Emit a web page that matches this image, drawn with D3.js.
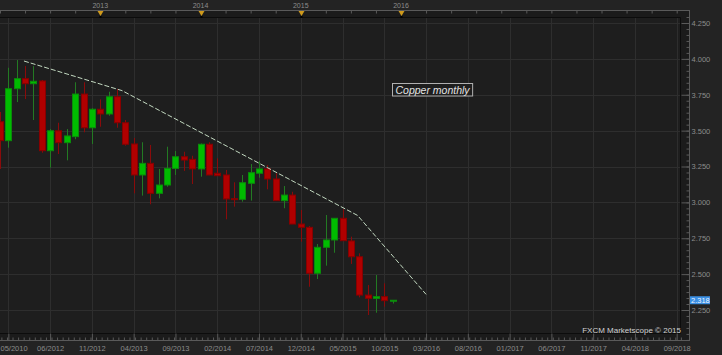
<!DOCTYPE html>
<html>
<head>
<meta charset="utf-8">
<script src="https://cdn.jsdelivr.net/npm/d3@7/dist/d3.min.js"></script>
<style>
  html, body { margin: 0; padding: 0; background: #232323; }
  svg { display: block; font-family: "Liberation Sans", Arial, sans-serif; }
</style>
</head>
<body>
<svg id="chart" width="722" height="355"></svg>
<script>
// monthly candles, Dec 2011 .. Nov 2015
let months = ["2011-12",
  "2012-01","2012-02","2012-03","2012-04","2012-05","2012-06","2012-07","2012-08","2012-09","2012-10","2012-11","2012-12",
  "2013-01","2013-02","2013-03","2013-04","2013-05","2013-06","2013-07","2013-08","2013-09","2013-10","2013-11","2013-12",
  "2014-01","2014-02","2014-03","2014-04","2014-05","2014-06","2014-07","2014-08","2014-09","2014-10","2014-11","2014-12",
  "2015-01","2015-02","2015-03","2015-04","2015-05","2015-06","2015-07","2015-08","2015-09","2015-10","2015-11"];
let open  = [3.562, 3.430,3.792,3.862,3.827,3.846,3.360,3.499,3.416,3.458,3.755,3.520,3.649,
             3.616,3.736,3.555,3.407,3.191,3.272,3.063,3.121,3.237,3.318,3.300,3.233,
             3.405,3.203,3.191,3.026,3.021,3.133,3.203,3.233,3.163,3.012,3.051,2.849,
             2.826,2.506,2.687,2.738,2.889,2.731,2.621,2.354,2.331,2.343,2.315];
let high  = [3.630, 3.938,3.992,3.950,3.950,3.853,3.511,3.555,3.511,3.837,3.837,3.656,3.718,
             3.771,3.790,3.574,3.449,3.419,3.400,3.233,3.388,3.358,3.353,3.325,3.410,
             3.419,3.307,3.226,3.140,3.191,3.267,3.288,3.260,3.203,3.114,3.074,2.947,
             2.835,2.710,2.912,2.890,2.952,2.761,2.645,2.424,2.494,2.436,2.318];
let low   = [3.233, 3.381,3.699,3.720,3.574,3.346,3.242,3.337,3.293,3.440,3.488,3.407,3.527,
             3.604,3.520,3.395,3.063,3.047,2.987,3.028,3.109,3.191,3.219,3.128,3.179,
             3.189,3.186,2.882,2.970,3.005,3.012,3.172,3.091,3.010,2.959,2.849,2.726,
             2.412,2.466,2.559,2.649,2.733,2.571,2.338,2.215,2.231,2.273,2.295];
let close = [3.430, 3.792,3.862,3.827,3.844,3.360,3.499,3.416,3.463,3.755,3.520,3.649,3.616,
             3.736,3.555,3.405,3.191,3.272,3.063,3.121,3.237,3.318,3.295,3.233,3.405,
             3.191,3.186,3.024,3.019,3.137,3.207,3.233,3.163,3.012,3.051,2.849,2.826,
             2.506,2.687,2.738,2.889,2.733,2.621,2.354,2.331,2.343,2.315,2.318];
let lastPrice = 2.318;

// dashed trend line (position in months from Jan 2012, price)
let trendPos = [1.87, 13.6, 41.8, 50.0];
let trendVal = [3.985, 3.779, 2.909, 2.359];

// axis labels
let labelMonths = ["2012-01","2012-06","2012-11","2013-04","2013-09","2014-02","2014-07","2014-12",
                   "2015-05","2015-10","2016-03","2016-08","2017-01","2017-06","2017-11","2018-04","2018-09"];
let labelText = ["05/2010","06/2012","11/2012","04/2013","09/2013","02/2014","07/2014","12/2014",
                 "05/2015","10/2015","03/2016","08/2016","01/2017","06/2017","11/2017","04/2018","09/2018"];
let yearText = ["2013","2014","2015","2016"];
let yearMonths = ["2012-12","2013-12","2014-12","2015-12"];
let priceTicks = [2.25, 2.5, 2.75, 3.0, 3.25, 3.5, 3.75, 4.0, 4.25];

let monthIdx = m => { let p = m.split('-'); return (+p[0] - 2012) * 12 + (+p[1] - 1); };

let plot = {left: 0, right: 680, top: 17, bottom: 333};
let axisX = 689, axisTopY = 10, axisBottomY = 340;

let x = d3.scaleLinear().domain([0, 80]).range([8.35, 676.7]);
let y = d3.scaleLinear().domain([2.25, 4.25]).range([310, 23]);

let svg = d3.select('#chart');
svg.append('rect').attr('width', 722).attr('height', 355).style('fill', '#232323');

// axis bands
svg.append('rect').attr('x', 0).attr('y', axisTopY).attr('width', axisX).attr('height', plot.top - axisTopY)
    .style('fill', '#1b1b1b');
svg.append('rect').attr('x', 0).attr('y', plot.bottom).attr('width', axisX).attr('height', axisBottomY - plot.bottom)
    .style('fill', '#1b1b1b');
svg.append('rect').attr('x', plot.right).attr('y', plot.top).attr('width', axisX - plot.right).attr('height', plot.bottom - plot.top)
    .style('fill', '#1b1b1b');

// plot background
svg.append('rect').attr('x', plot.left).attr('y', plot.top)
    .attr('width', plot.right - plot.left).attr('height', plot.bottom - plot.top)
    .style('fill', '#1e1e1e');

svg.append('defs').append('clipPath').attr('id', 'clip').append('rect')
    .attr('x', plot.left).attr('y', plot.top).attr('width', plot.right - plot.left).attr('height', plot.bottom - plot.top);

let g = svg.append('g').attr('clip-path', 'url(#clip)');

// gridlines
g.selectAll('.vgrid').data(labelMonths).enter().append('line')
    .attr('x1', d => Math.round(x(monthIdx(d))) + 0.5).attr('x2', d => Math.round(x(monthIdx(d))) + 0.5)
    .attr('y1', plot.top).attr('y2', plot.bottom)
    .style('stroke', '#2e2e2e').style('stroke-width', 1);
g.selectAll('.hgrid').data(priceTicks).enter().append('line')
    .attr('x1', plot.left).attr('x2', plot.right)
    .attr('y1', d => Math.round(y(d)) + 0.5).attr('y2', d => Math.round(y(d)) + 0.5)
    .style('stroke', '#2e2e2e').style('stroke-width', 1);

// candles
let candles = months.map((m, i) => ({m: m, o: open[i], h: high[i], l: low[i], c: close[i]}));
let cx = d => Math.round(x(monthIdx(d.m)));

g.selectAll('.wick').data(candles).enter().append('line')
    .attr('x1', d => cx(d) + 0.5).attr('x2', d => cx(d) + 0.5)
    .attr('y1', d => y(d.h)).attr('y2', d => y(d.l))
    .style('stroke', d => d.c >= d.o ? '#237a23' : '#8a0b0b').style('stroke-width', 1);

g.selectAll('.body').data(candles).enter().append('rect')
    .attr('x', d => cx(d) - 2.5)
    .attr('y', d => y(Math.max(d.o, d.c)))
    .attr('width', 6)
    .attr('height', d => Math.max(1, y(Math.min(d.o, d.c)) - y(Math.max(d.o, d.c))))
    .style('fill', d => d.c >= d.o ? '#00bc00' : '#b00000')
    .style('stroke', d => d.c >= d.o ? '#0a8c0a' : '#870000').style('stroke-width', 1);

// trend line
let trend = trendPos.map((p, i) => [p, trendVal[i]]);
g.append('path').datum(trend)
    .attr('d', d3.line().x(d => x(d[0])).y(d => y(d[1])))
    .style('fill', 'none').style('stroke', '#c2d8c0').style('stroke-width', 1)
    .style('stroke-dasharray', '5,2');

// plot border
svg.append('path')
    .attr('d', 'M' + plot.left + ',' + (plot.top + 0.5) + 'H' + (plot.right + 0.5) + 'V' + (plot.bottom + 0.5) + 'H' + plot.left)
    .style('fill', 'none').style('stroke', '#0c0c0c').style('stroke-width', 1);

// right axis
let rAxis = svg.append('g').attr('transform', 'translate(' + (axisX + 0.5) + ',0)')
    .call(d3.axisRight(y).tickValues(priceTicks).tickFormat(d3.format('.3f')).tickSize(-8).tickPadding(2));
let minorY = d3.range(2.0, 4.3, 0.25 / 6).filter(v => y(v) > axisTopY && y(v) < axisBottomY);
let rMinor = svg.append('g').attr('transform', 'translate(' + (axisX + 0.5) + ',0)')
    .call(d3.axisRight(y).tickValues(minorY).tickFormat('').tickSize(-3));

// bottom axis
let bAxis = svg.append('g').attr('transform', 'translate(0,' + (axisBottomY + 0.5) + ')')
    .call(d3.axisBottom(x).tickValues(labelMonths.map(monthIdx))
        .tickFormat((d, i) => labelText[i]).tickSize(-7).tickPadding(5));
let minorX = d3.range(-1.5, 81, 2 / 3);
let bMinor = svg.append('g').attr('transform', 'translate(0,' + (axisBottomY + 0.5) + ')')
    .call(d3.axisBottom(x).tickValues(minorX).tickFormat('').tickSize(-3));

// top axis: quarterly ticks
let tAxis = svg.append('g').attr('transform', 'translate(0,' + (axisTopY + 0.5) + ')')
    .call(d3.axisBottom(x).tickValues(d3.range(-1, 81, 3)).tickFormat('').tickSize(3));

[rAxis, rMinor, bAxis, bMinor, tAxis].forEach(a => a.select('.domain').remove());
svg.selectAll('.tick line').style('stroke', '#5a5a5a');
svg.selectAll('.tick text').style('fill', '#8c8c8c').style('font-size', '7.5px')
    .style('font-family', '"Liberation Sans", Arial, sans-serif');

// first bottom label sits against the left edge
bAxis.select('.tick text').attr('text-anchor', 'start').attr('x', -x(0));

// axis lines
svg.append('line').attr('x1', 0).attr('x2', axisX + 1).attr('y1', axisTopY + 0.5).attr('y2', axisTopY + 0.5)
    .style('stroke', '#5a5a5a');
svg.append('line').attr('x1', 0).attr('x2', axisX + 1).attr('y1', axisBottomY + 0.5).attr('y2', axisBottomY + 0.5)
    .style('stroke', '#5a5a5a');
svg.append('line').attr('x1', axisX + 0.5).attr('x2', axisX + 0.5).attr('y1', axisTopY).attr('y2', axisBottomY + 1)
    .style('stroke', '#5a5a5a');

// year markers
let years = yearText.map((t, i) => ({t: t, p: monthIdx(yearMonths[i])}));
svg.selectAll('.yearlabel').data(years).enter().append('text')
    .attr('x', d => x(d.p)).attr('y', 7.5)
    .attr('text-anchor', 'middle')
    .style('font-size', '7px').style('fill', '#8c8c8c')
    .text(d => d.t);
svg.selectAll('.yearmark').data(years).enter().append('path')
    .attr('d', d => { let c = Math.round(x(d.p)) + 0.5; return 'M' + (c - 3) + ',11L' + (c + 3) + ',11L' + c + ',16Z'; })
    .style('fill', '#cf9a1c');
svg.selectAll('.yeardot').data(years).enter().append('rect')
    .attr('x', d => Math.round(x(d.p)) - 0.5).attr('y', 16).attr('width', 2).attr('height', 2)
    .style('fill', '#000');

// title box
let ann = svg.append('g').attr('transform', 'translate(' + Math.round(x(45.9)) + ',' + Math.round(y(3.832)) + ')');
let annText = ann.append('text').attr('x', 3.5).attr('y', 10.5)
    .style('font-size', '10.5px').style('font-style', 'italic').style('fill', '#e4e4e4')
    .text('Copper monthly');
let aw = annText.node().getComputedTextLength();
ann.insert('rect', 'text').attr('x', 0.5).attr('y', 0.5).attr('width', aw + 6).attr('height', 12.5)
    .style('fill', '#1e1e1e').style('stroke', '#b0b0b0').style('stroke-width', 1);

// last price tag
let lp = svg.append('g').attr('transform', 'translate(' + (axisX + 1) + ',' + y(lastPrice) + ')');
lp.append('rect').attr('x', 0).attr('y', -4).attr('width', 20).attr('height', 8).style('fill', '#3b8fe3');
lp.append('text').attr('x', 1).attr('y', 2.7)
    .style('font-size', '7.5px').style('fill', '#eef4ff')
    .text(d3.format('.3f')(lastPrice));

// copyright
svg.append('text').attr('x', plot.right + 1).attr('y', plot.bottom - 0.5).attr('text-anchor', 'end')
    .style('font-size', '8px').style('fill', '#d0d0d0')
    .text('FXCM Marketscope \u00a9 2015');
</script>
</body>
</html>
